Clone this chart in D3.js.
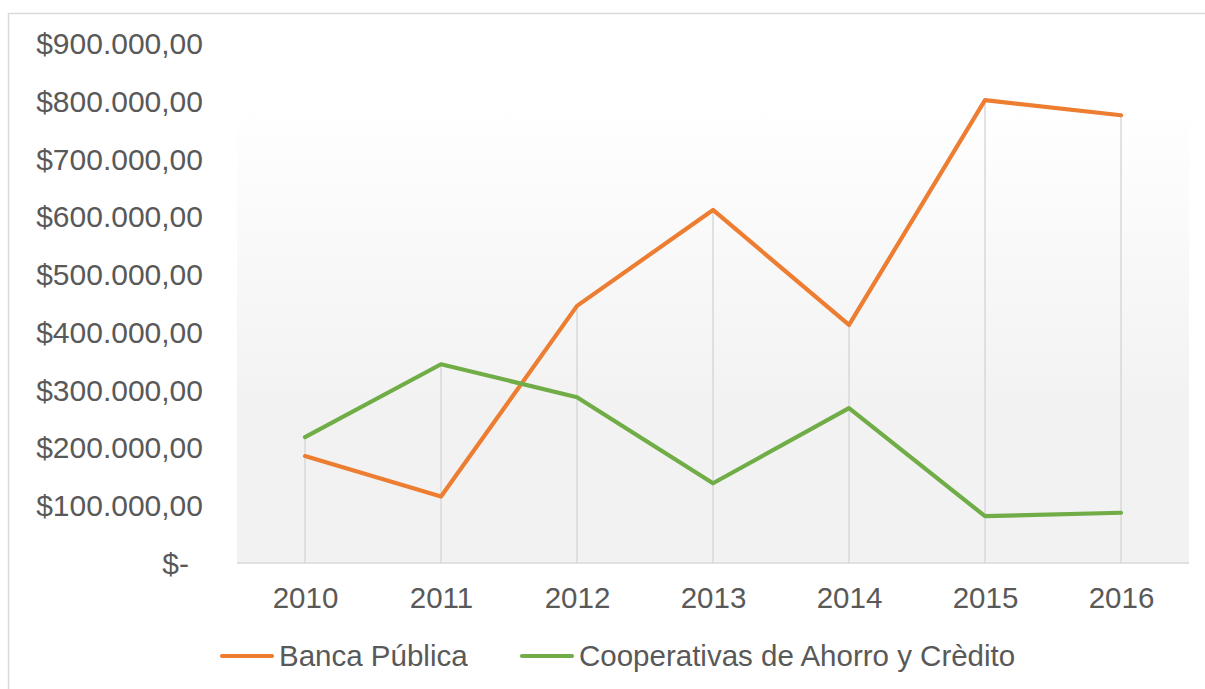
<!DOCTYPE html>
<html>
<head>
<meta charset="utf-8">
<script src="https://cdn.jsdelivr.net/npm/d3@7"></script>
<style>
  html, body { margin: 0; padding: 0; background: #fff; }
  svg { display: block; font-family: "Liberation Sans", Arial, sans-serif; }
</style>
</head>
<body>
<svg id="chart" width="1205" height="689"></svg>
<script>
// Yearly amounts for each type of institution
const years = ["2010", "2011", "2012", "2013", "2014", "2015", "2016"];
const bancaPublica = [185000, 115000, 445000, 611000, 412000, 801000, 775000];
const cooperativas = [218000, 344000, 287000, 138000, 268000, 81000, 87000];
const yTicks = [0, 100000, 200000, 300000, 400000, 500000, 600000, 700000, 800000, 900000];
const seriesNames = ["Banca Pública", "Cooperativas de Ahorro y Crèdito"];
const seriesColors = ["#ED7D31", "#70AD47"];

const svg = d3.select("#chart");
const W = 1205, H = 689;
const plot = { left: 237, right: 1189, top: 43, bottom: 563 };

// outer frame
svg.append("rect")
  .attr("x", 8.5).attr("y", 13.5)
  .attr("width", W).attr("height", H)
  .attr("fill", "#fff").attr("stroke", "#d9d9d9").attr("stroke-width", 1.5);

// plot background gradient
const defs = svg.append("defs");
const grad = defs.append("linearGradient")
  .attr("id", "bg").attr("x1", 0).attr("y1", 0).attr("x2", 0).attr("y2", 1);
grad.append("stop").attr("offset", "0%").attr("stop-color", "#ffffff");
grad.append("stop").attr("offset", "12%").attr("stop-color", "#ffffff");
grad.append("stop").attr("offset", "70%").attr("stop-color", "#f2f2f2");
grad.append("stop").attr("offset", "100%").attr("stop-color", "#f2f2f2");

svg.append("rect")
  .attr("x", plot.left).attr("y", plot.top)
  .attr("width", plot.right - plot.left).attr("height", plot.bottom - plot.top)
  .attr("fill", "url(#bg)");

const x = d3.scalePoint().domain(years).range([plot.left, plot.right]).padding(0.5);
const y = d3.scaleLinear().domain([0, 900000]).range([plot.bottom, plot.top]);

const fmt = v => v === 0 ? "$-" :
  "$" + d3.format(",.2f")(v).replace(/,/g, "#").replace(".", ",").replace(/#/g, ".");

// y axis labels
const yAxis = d3.axisLeft(y).tickValues(yTicks).tickFormat(fmt).tickSize(0).tickPadding(0);
const yg = svg.append("g").attr("transform", "translate(203,0)").call(yAxis);
yg.select(".domain").remove();
yg.selectAll("text")
  .attr("fill", "#595959").style("font-size", "30px")
  .attr("dy", "0.35em");
yg.selectAll(".tick").filter(d => d === 0).select("text").attr("x", -14);

// drop lines from the highest point of each year to the axis
const tops = years.map((yr, i) => Math.max(bancaPublica[i], cooperativas[i]));
svg.append("g").selectAll("line").data(years).join("line")
  .attr("x1", d => x(d)).attr("x2", d => x(d))
  .attr("y1", (d, i) => y(tops[i])).attr("y2", plot.bottom)
  .attr("stroke", "#d9d9d9").attr("stroke-width", 1.5);

// x axis
const xAxis = d3.axisBottom(x).tickSize(0).tickPadding(24);
const xg = svg.append("g").attr("transform", `translate(0,${plot.bottom})`).call(xAxis);
xg.select(".domain").attr("stroke", "#d9d9d9").attr("stroke-width", 1.5)
  .attr("d", `M${plot.left},0H${plot.right}`);
xg.selectAll("text").attr("fill", "#595959").style("font-size", "29.5px");

// series lines
const line = d3.line().x((d, i) => x(years[i])).y(d => y(d));
[bancaPublica, cooperativas].forEach((vals, k) => {
  svg.append("path")
    .datum(vals)
    .attr("d", line)
    .attr("fill", "none")
    .attr("stroke", seriesColors[k])
    .attr("stroke-width", 4.2)
    .attr("stroke-linejoin", "round")
    .attr("stroke-linecap", "round");
});

// legend
const legendX = [222, 522];
const lg = svg.append("g");
seriesNames.forEach((name, k) => {
  lg.append("line")
    .attr("x1", legendX[k]).attr("x2", legendX[k] + 50)
    .attr("y1", 656).attr("y2", 656)
    .attr("stroke", seriesColors[k]).attr("stroke-width", 4.2)
    .attr("stroke-linecap", "round");
  lg.append("text")
    .attr("x", legendX[k] + 57).attr("y", 666)
    .attr("fill", "#595959").style("font-size", "29.5px")
    .text(name);
});
</script>
</body>
</html>
